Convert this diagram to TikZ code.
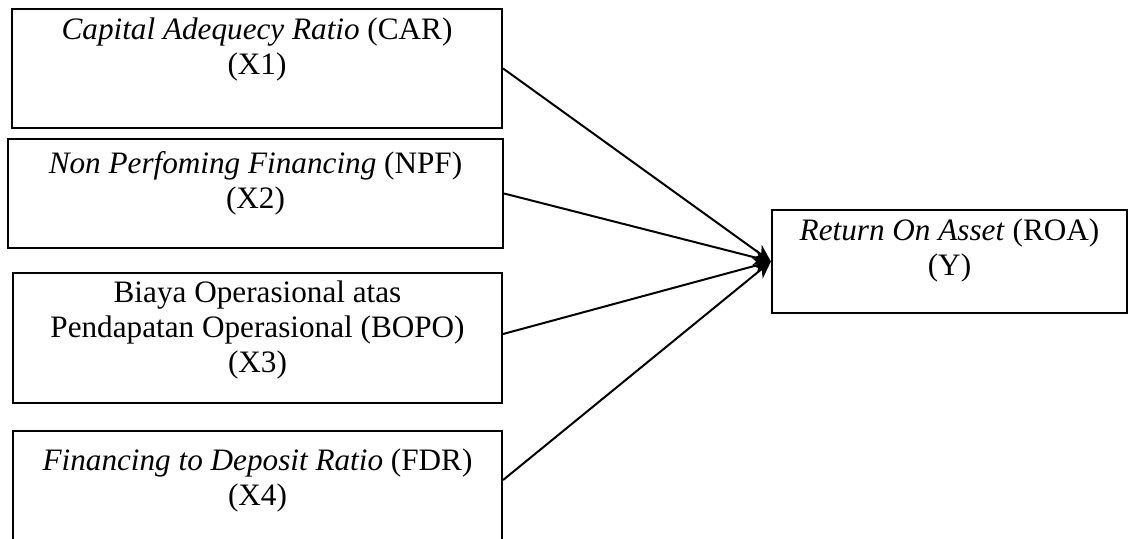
\documentclass[tikz,border=0pt]{standalone}
\usepackage{fontspec}
\setmainfont{Liberation Serif}
\usetikzlibrary{arrows.meta,calc,positioning}
\tikzset{
  rk canvas/.style={fill=white},
  rk box/.style={draw=black, line width=1.1pt, inner sep=0pt},
  rk text/.style={font=\fontsize{15.6}{17.5}\selectfont, align=center, inner sep=0pt, anchor=north},
  rk arrow/.style={
    draw=black,
    line width=1pt,
    -{Stealth[length=8.5pt,width=8pt,inset=2.5pt]}
  }
}

\begin{document}
\begin{tikzpicture}[x=.5pt,y=-.5pt]
  \path[rk canvas] (0,0) rectangle (1128,539);
  \useasboundingbox (0,0) rectangle (1128,539);

  \node[rk box, minimum width=245pt, minimum height=59.5pt] (x1) at (257,68.5) {};
  \node[rk box, minimum width=247.5pt, minimum height=54.5pt] (x2) at (255.5,193.5) {};
  \node[rk box, minimum width=244.5pt, minimum height=65pt] (x3) at (257.5,338) {};
  \node[rk box, minimum width=244.5pt, minimum height=57pt] (x4) at (257.5,488) {};
  \node[rk box, minimum width=177.5pt, minimum height=51.5pt] (y) at (949.5,261.5) {};

  \node[rk text] (x1t) at ([yshift=-5pt]x1.north)
    {\textit{Capital Adequecy Ratio} (CAR)\\(X1)};
  \node[rk text] (x2t) at ([yshift=-6.5pt]x2.north)
    {\textit{Non Perfoming Financing} (NPF)\\(X2)};
  \node[rk text] (x3t) at ([yshift=-4.5pt]x3.north)
    {Biaya Operasional atas\\Pendapatan Operasional (BOPO)\\(X3)};
  \node[rk text] (x4t) at ([yshift=-9.5pt]x4.north)
    {\textit{Financing to Deposit Ratio} (FDR)\\(X4)};
  \node[rk text] (yt) at ([yshift=-5pt]y.north)
    {\textit{Return On Asset} (ROA)\\(Y)};

  \draw[rk arrow] (x1.east) -- (y.west);
  \draw[rk arrow] (x2.east) -- (y.west);
  \draw[rk arrow] ($(x3.east)+(0,-4)$) -- (y.west);
  \draw[rk arrow] ($(x4.east)+(0,-8)$) -- (y.west);
\end{tikzpicture}
\end{document}
